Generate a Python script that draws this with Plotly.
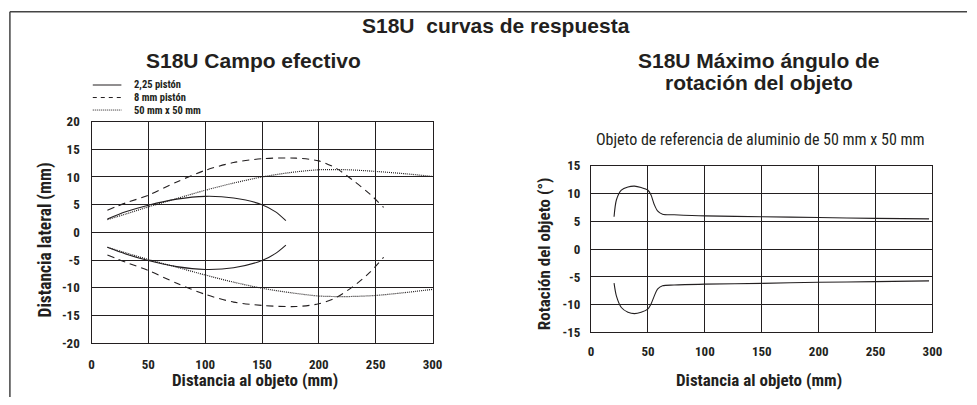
import plotly.graph_objects as go

W, H = 977, 405

# ---------------- data: left chart (Campo efectivo) ----------------
piston225_up_x = [14, 30, 50, 75, 100, 125, 150, 162, 171]
piston225_up_y = [2.4, 3.7, 4.9, 6.0, 6.5, 6.2, 5.0, 3.7, 2.1]
piston225_lo_x = [14, 30, 50, 75, 100, 125, 150, 162, 171]
piston225_lo_y = [-2.7, -3.9, -5.1, -6.2, -6.7, -6.4, -5.1, -3.8, -2.3]

piston8_up_x = [14, 30, 50, 75, 100, 125, 150, 180, 200, 215, 230, 245, 257]
piston8_up_y = [4.0, 5.3, 6.7, 9.1, 11.2, 12.6, 13.3, 13.4, 12.9, 11.6, 9.4, 6.9, 4.5]
piston8_lo_x = [14, 30, 50, 75, 100, 125, 150, 180, 200, 215, 230, 245, 257]
piston8_lo_y = [-4.1, -5.4, -6.9, -9.2, -11.2, -12.6, -13.2, -13.4, -12.9, -11.8, -9.8, -7.2, -4.5]

sq50_up_x = [14, 30, 50, 75, 100, 125, 150, 175, 200, 225, 250, 275, 300]
sq50_up_y = [2.3, 3.3, 4.6, 6.1, 7.6, 8.9, 10.0, 10.8, 11.3, 11.3, 11.0, 10.6, 10.1]
sq50_lo_x = [14, 30, 50, 75, 100, 125, 150, 175, 200, 225, 250, 275, 300]
sq50_lo_y = [-2.7, -3.7, -4.9, -6.3, -7.7, -9.0, -10.1, -10.9, -11.5, -11.6, -11.4, -10.9, -10.3]

# ---------------- data: right chart (rotación) ----------------
rot_up_x = [20.2, 22.3, 26.6, 32.4, 38.2, 44.0, 49.8, 52.6, 55.5, 58.4, 62.8, 72.9, 100, 150, 200, 250, 297]
rot_up_y = [5.85, 8.9, 10.65, 11.2, 11.35, 11.1, 10.65, 9.8, 8.05, 6.9, 6.3, 6.2, 6.0, 5.85, 5.7, 5.55, 5.45]
rot_lo_x = [20.2, 22.3, 26.6, 32.4, 38.2, 44.0, 49.8, 52.6, 55.5, 58.4, 62.8, 72.9, 100, 150, 200, 250, 297]
rot_lo_y = [-6.1, -8.45, -10.5, -11.35, -11.6, -11.35, -10.8, -9.9, -8.45, -7.2, -6.6, -6.45, -6.3, -6.15, -5.95, -5.85, -5.7]

x_ticks = [0, 50, 100, 150, 200, 250, 300]
x_tick_labels = ["0", "50", "100", "150", "200", "250", "300"]
left_y_ticks = [-20, -15, -10, -5, 0, 5, 10, 15, 20]
left_y_tick_labels = ["-20", "-15", "-10", "-5", "0", "5", "10", "15", "20"]
right_y_ticks = [-15, -10, -5, 0, 5, 10, 15]
right_y_tick_labels = ["-15", "-10", "-5", "0", "5", "10", "15"]

legend_names = ["2,25 pistón", "8 mm pistón", "50 mm x 50 mm"]

NARROW = "Roboto Condensed, Liberation Sans Narrow, Arial Narrow, sans-serif"
WIDE = "Liberation Sans, Arial, Helvetica"
INK = "#231f20"

fig = go.Figure()

def add(x, y, dash, xa, ya, width=1.1):
    fig.add_trace(go.Scatter(x=x, y=y, mode="lines", xaxis=xa, yaxis=ya,
                             line=dict(color=INK, width=width, dash=dash, shape="spline", smoothing=0.8),
                             showlegend=False, hoverinfo="skip"))

add(piston225_up_x, piston225_up_y, "solid", "x", "y")
add(piston225_lo_x, piston225_lo_y, "solid", "x", "y")
add(piston8_up_x, piston8_up_y, "7px,5px", "x", "y")
add(piston8_lo_x, piston8_lo_y, "7px,5px", "x", "y")
add(sq50_up_x, sq50_up_y, "1px,1px", "x", "y", 1.2)
add(sq50_lo_x, sq50_lo_y, "1px,1px", "x", "y", 1.2)
add(rot_up_x, rot_up_y, "solid", "x2", "y2")
add(rot_lo_x, rot_lo_y, "solid", "x2", "y2")

def px(v):
    return v / W

def py(v):
    return (H - v) / H

tickfont = dict(family=NARROW, size=13, color=INK, weight="bold")
axis_common = dict(showgrid=True, gridcolor=INK, gridwidth=1, zeroline=False,
                   showline=True, linecolor=INK, linewidth=1.3, mirror=True,
                   tickfont=tickfont, ticks="", fixedrange=True, tickmode="array")

fig.update_layout(
    width=W, height=H, margin=dict(l=0, r=0, t=0, b=0),
    paper_bgcolor="white", plot_bgcolor="white", showlegend=False,
    font=dict(family=NARROW, color=INK),
    xaxis=dict(domain=[px(89.7), px(435.3)], range=[0, 300], tickvals=x_ticks, ticktext=x_tick_labels,
               anchor="y", ticklabelstandoff=9, **axis_common),
    yaxis=dict(domain=[py(349), py(119)], range=[-20, 20], tickvals=left_y_ticks, ticktext=left_y_tick_labels,
               anchor="x", ticklabelstandoff=8, **axis_common),
    xaxis2=dict(domain=[px(596), px(942)], range=[0, 300], tickvals=x_ticks, ticktext=x_tick_labels,
                anchor="y2", ticklabelstandoff=7, **axis_common),
    yaxis2=dict(domain=[py(338), py(165)], range=[-15, 15], tickvals=right_y_ticks, ticktext=right_y_tick_labels,
                anchor="x2", ticklabelstandoff=7, **axis_common),
)

ann = []
def text(x, y, s, size, family=NARROW, bold=True, angle=0, xanchor="center"):
    ann.append(dict(x=px(x), y=py(y), xref="paper", yref="paper", text=(f"<b>{s}</b>" if bold else s),
                    showarrow=False, xanchor=xanchor, yanchor="middle", textangle=angle,
                    font=dict(family=family, size=size, color=INK)))

text(500, 19, "S18U\u00a0 curvas de respuesta", 21, family=WIDE)
text(254, 56, "S18U Campo efectivo", 21, family=WIDE)
text(766, 56, "S18U Máximo ángulo de", 21, family=WIDE)
text(766, 78, "rotación del objeto", 21, family=WIDE)
text(768, 138, "Objeto de referencia de aluminio de 50 mm x 50 mm", 16, bold=False)
text(255, 387, "Distancia al objeto (mm)", 17)
text(766, 387, "Distancia al objeto (mm)", 17)
text(43, 242, "Distancia lateral (mm)", 17.5, angle=-90)
text(548, 256, "Rotación del objeto (°)", 17, angle=-90)

for i, nm in enumerate(legend_names):
    text(131, 81 + i * 13, nm, 10.5, xanchor="left")

fig.update_layout(annotations=ann)

# legend line samples and outer frame
shapes = []
dashes = ["solid", "4px,4px", "1px,1px"]
for i, d in enumerate(dashes):
    yy = py(81 + i * 13)
    shapes.append(dict(type="line", xref="paper", yref="paper", x0=px(91), x1=px(120), y0=yy, y1=yy,
                       line=dict(color=INK, width=1, dash=d)))
shapes.append(dict(type="line", xref="paper", yref="paper", x0=px(7), x1=px(7), y0=py(5), y1=0,
                   line=dict(color="#444", width=1.5)))
shapes.append(dict(type="line", xref="paper", yref="paper", x0=px(7), x1=1, y0=py(5), y1=py(5),
                   line=dict(color="#444", width=1.5)))
fig.update_layout(shapes=shapes)

fig.write_html("out.html", config={"displayModeBar": False},
               post_script="document.body.style.margin='0px';document.body.style.overflow='hidden';")
